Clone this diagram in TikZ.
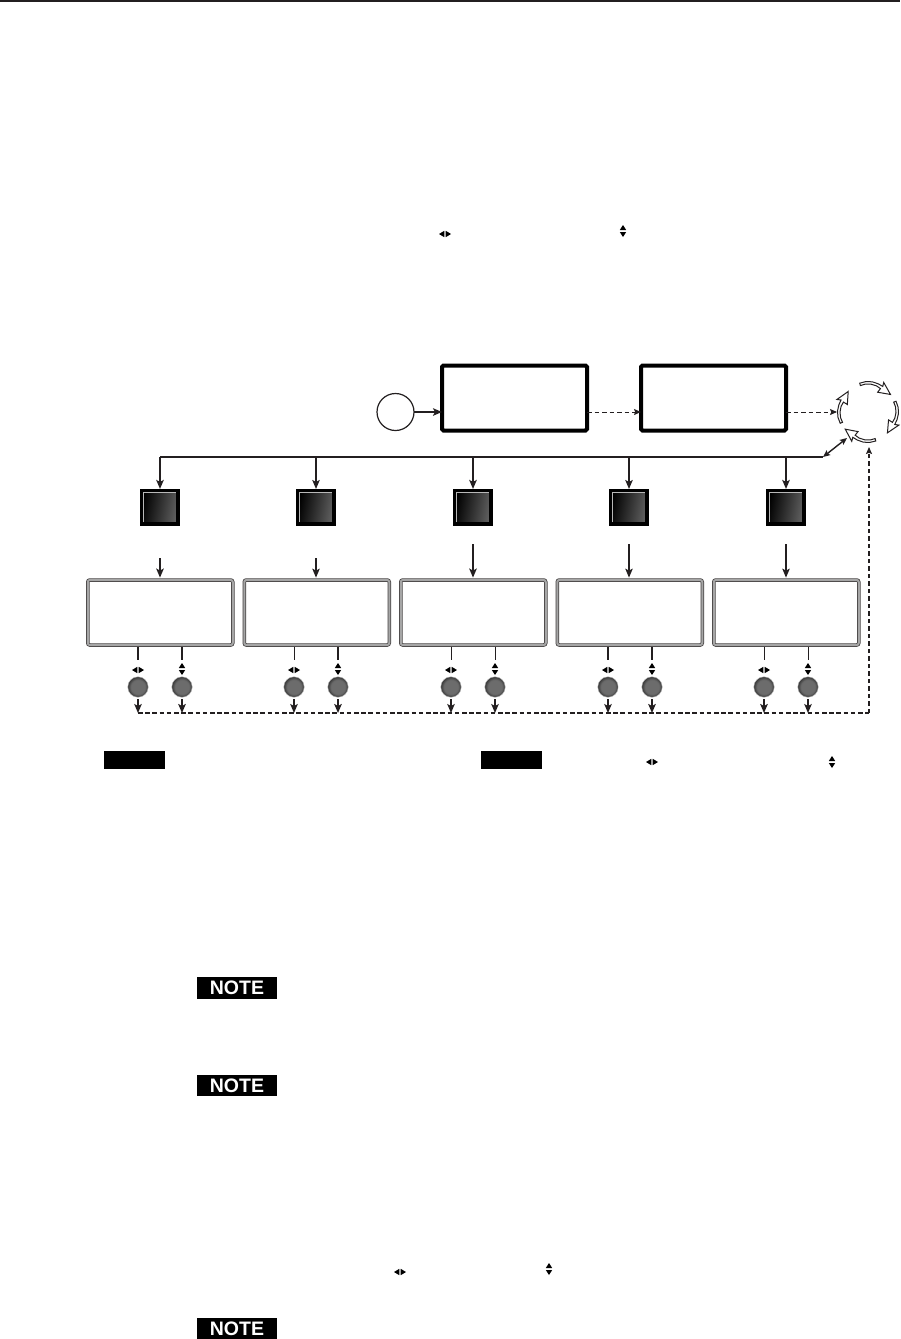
\documentclass[tikz,border=0pt]{standalone}
\usepackage{fontspec}
\setmainfont{Liberation Sans}
\usetikzlibrary{arrows.meta,calc}
\definecolor{ink}{HTML}{231F20}
\definecolor{kfill}{HTML}{6C6C6C}
\definecolor{krim}{HTML}{383838}
\pgfdeclareradialshading{knobshade}{\pgfpoint{0bp}{0bp}}{color(0bp)=(kfill);color(17bp)=(kfill);color(25bp)=(krim);color(50bp)=(krim)}
\tikzset{
  arr/.style={draw=ink,-{Stealth[length=9pt,width=7.5pt,inset=2pt]}},
  arrs/.style={draw=ink,-{Stealth[length=7pt,width=6pt,inset=1.2pt]}},
  dash thin/.style={dash pattern=on 4.5pt off 3pt,line width=.9pt},
  dash thick/.style={dash pattern=on 4.5pt off 2.7pt,line width=1.4pt},
  bigbox/.style={draw=black,line width=4pt,rounded corners=1.5pt,fill=white,minimum width=145pt,minimum height=65pt,inner sep=0pt,outer sep=0pt},
  startc/.style={circle,draw=ink,line width=1.2pt,minimum size=37pt,inner sep=0pt,outer sep=0pt},
  btn/.style={rectangle,draw=black,line width=3.6pt,left color=black,right color=black!62,shading angle=80,minimum width=36.5pt,minimum height=33.5pt,inner sep=0pt,outer sep=1.8pt},
  panel/.style={draw=ink!85,line width=.75pt,double=black!35,double distance=2pt,rounded corners=2pt,fill=white,minimum width=145pt,minimum height=65pt,inner sep=0pt,outer sep=2.4pt},
  knob/.style={circle,shading=knobshade,draw=black!25,line width=.4pt,minimum size=20.5pt,inner sep=0pt,outer sep=0pt},
  blackbar/.style={fill=black,inner sep=0pt,minimum width=61pt,minimum height=18pt},
  notebar/.style={fill=black,text=white,font=\fontsize{19.5}{20}\selectfont\bfseries,inner sep=0pt,minimum width=80pt,minimum height=21.5pt},
  cyc/.style={draw=ink,line width=1pt,fill=white,line join=miter}
}
\newcommand{\lrsym}[1]{\begin{scope}[shift={(#1)}]
  \fill[black] (-.7,-3.2)--(-.7,3.2)--(-6,0)--cycle;
  \fill[black] (.7,-3.2)--(.7,3.2)--(6,0)--cycle;
\end{scope}}
\newcommand{\udsym}[1]{\begin{scope}[shift={(#1)}]
  \fill[black] (-3.2,-1)--(3.2,-1)--(0,-6)--cycle;
  \fill[black] (-3.2,1)--(3.2,1)--(0,6)--cycle;
\end{scope}}
\begin{document}
\begin{tikzpicture}[x=1pt,y=-1pt]
\useasboundingbox (0,0) rectangle (900,1339);
\fill[white] (0,0) rectangle (900,1339);
\draw[ink,line width=1.2pt] (0,1)--(900,1);

\lrsym{445,234}
\udsym{623,231}
\lrsym{652,762}
\udsym{832,762}
\lrsym{400,1272}
\udsym{549,1269}

% top row
\node[startc] (start) at (395.5,412) {};
\node[bigbox] (mA) at (514.5,398) {};
\node[bigbox] (mB) at (713.5,398) {};
\coordinate (cycW) at (837,412);
\coordinate (cycS) at (869,447);
\coordinate (cycSW) at (847,438);
\coordinate (busR) at (823,457);
\coordinate (dashL) at (138,713);
\coordinate (dashR) at (869,713);

\draw[arr,line width=1.6pt] (start.east) -- (mA.west |- start.east);
\draw[arrs,dash thin] (mA.east |- start.east) -- (mB.west |- start.east);
\draw[arrs,dash thin] (mB.east |- cycW) -- (cycW);

% cycle arrows
\foreach \a in {-106,-21,75,158}{
  \begin{scope}[shift={(868,412)}]
    \draw[cyc] (\a:30) -- ({\a+12}:30.5) -- ({\a+24}:30.5) -- ({\a+36}:30) -- ({\a+46}:29.5) -- ({\a+44}:33.5) -- ({\a+68}:28.5) -- ({\a+42}:22) -- ({\a+44}:26.5) -- ({\a+34}:27.5) -- ({\a+22}:28) -- ({\a+10}:28) -- (\a:27.5) -- cycle;
  \end{scope}
}
\draw[line width=1.4pt,draw=ink,{Stealth[length=7pt,width=6pt,inset=1.2pt]}-{Stealth[length=7pt,width=6pt,inset=1.2pt]}] (cycSW) -- (busR);

% columns
\foreach \i/\xc/\px/\ka/\kb/\wA/\wB/\yT/\wC/\wD/\wE/\wF in {
 1/160/160.25/138/182/1.8/1.8/558/1.8/1.8/1.2/1.8,
 2/316/316.75/294/338/1.1/1.1/558/1.0/1.8/1.2/1.8,
 3/473/473.25/451/495/1.8/1.8/544/0.9/0.9/1.2/1.2,
 4/629/629.75/608/652/1.1/1.1/544/1.8/1.8/1.2/1.8,
 5/786/786.25/764/808/1.8/1.1/544/0.9/0.9/1.8/1.2}{
  \coordinate (bus\i) at (\xc,457);
  \node[btn] (sq\i) at (\xc,507.5) {};
  \draw[black!28,line width=.8pt] ($(sq\i.south west)+(3.8,-3.8)$) |- ($(sq\i.north east)+(-3.8,3.8)$);
  \coordinate (top\i) at (\xc,\yT);
  \node[panel] (pn\i) at (\px,612.5) {};
  \node[knob] (ka\i) at (\ka,687) {};
  \node[knob] (kb\i) at (\kb,687) {};
  \coordinate (sa\i) at (\ka,660);
  \coordinate (sb\i) at (\kb,660);
  \draw[arr,line width=\wA pt] (bus\i) -- (sq\i.north);
  \draw[arr,line width=\wB pt] (top\i) -- (pn\i.north -| top\i);
  \draw[ink,line width=\wC pt] (pn\i.south -| sa\i) -- (sa\i);
  \draw[ink,line width=\wD pt] (pn\i.south -| sb\i) -- (sb\i);
  \lrsym{\ka,670}
  \udsym{\kb,669}
  \draw[arr,line width=\wE pt,shorten <=1.8pt] (ka\i.south) -- (ka\i.south |- dashL);
  \draw[arr,line width=\wF pt,shorten <=1.8pt] (kb\i.south) -- (kb\i.south |- dashL);
}
\draw[ink,line width=1.5pt] (bus1) -- (busR);
\draw[ink,dash thick] (dashL) -- (dashR);
\draw[arrs,dash thin,line width=1.1pt] (dashR) -- (cycS);

\node[blackbar] (barA) at (134.5,760) {};
\node[blackbar] (barB) at (511.5,760) {};
\node[notebar] (noteA) at (237,988) {NOTE};
\node[notebar] (noteB) at (237,1085.5) {NOTE};
\node[notebar] (noteC) at (237,1328.5) {NOTE};
\end{tikzpicture}
\end{document}
